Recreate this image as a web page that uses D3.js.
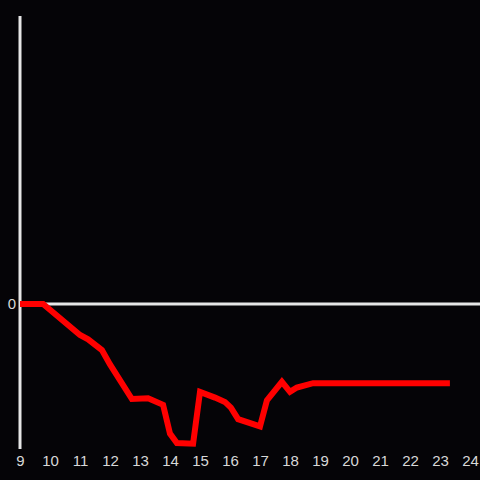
<!DOCTYPE html>
<html><head><meta charset="utf-8">
<script src="https://cdn.jsdelivr.net/npm/d3@7"></script>
<style>html,body{margin:0;padding:0;background:#050407;}</style>
</head><body>
<svg id="c" width="480" height="480"></svg>
<script>
const hours = [9, 9.77, 11.0, 11.27, 11.73, 12.0, 12.73, 13.27, 13.77, 14.0, 14.23, 14.77, 15.0, 15.5, 15.83, 16.03, 16.27, 17.0, 17.23, 17.73, 18.0, 18.23, 18.77, 23.33];
const values = [0, 0, -0.215, -0.245, -0.32, -0.42, -0.66, -0.655, -0.70, -0.90, -0.965, -0.97, -0.61, -0.65, -0.68, -0.72, -0.80, -0.85, -0.67, -0.54, -0.61, -0.58, -0.55, -0.55];
const xTicks = [9,10,11,12,13,14,15,16,17,18,19,20,21,22,23,24];
const yTicks = [0];

const svg = d3.select("#c");
const x = d3.scaleLinear().domain([9, 24]).range([20, 470]);
const y = d3.scaleLinear().domain([-1, 2]).range([448, 16]);

svg.append("rect").attr("width",480).attr("height",480).attr("fill","#050407");

svg.append("line").attr("x1",x(9)).attr("x2",x(9)).attr("y1",16).attr("y2",449)
  .attr("stroke","#e6e6e6").attr("stroke-width",3);
svg.append("line").attr("x1",x(9)).attr("x2",480).attr("y1",y(0)).attr("y2",y(0))
  .attr("stroke","#e6e6e6").attr("stroke-width",3);

const font = "'Liberation Sans', Arial, sans-serif";
const xa = svg.append("g").attr("transform","translate(0,449)")
  .call(d3.axisBottom(x).tickValues(xTicks).tickSize(0).tickPadding(6).tickFormat(d3.format("d")));
xa.select(".domain").remove();
xa.selectAll("text").attr("fill","#d8d8d8").style("font-family",font).style("font-size","15px");

const ya = svg.append("g").attr("transform","translate(17,0)")
  .call(d3.axisLeft(y).tickValues(yTicks).tickSize(0).tickPadding(1).tickFormat(d3.format("d")));
ya.select(".domain").remove();
ya.selectAll("text").attr("fill","#d8d8d8").style("font-family",font).style("font-size","15px");

const data = hours.map((h,i)=>({h, v: values[i]}));
svg.append("path").datum(data)
  .attr("fill","none").attr("stroke","#ff0000").attr("stroke-width",6)
  .attr("stroke-linejoin","miter")
  .attr("d", d3.line().x(d=>x(d.h)).y(d=>y(d.v)));
</script>
</body></html>
